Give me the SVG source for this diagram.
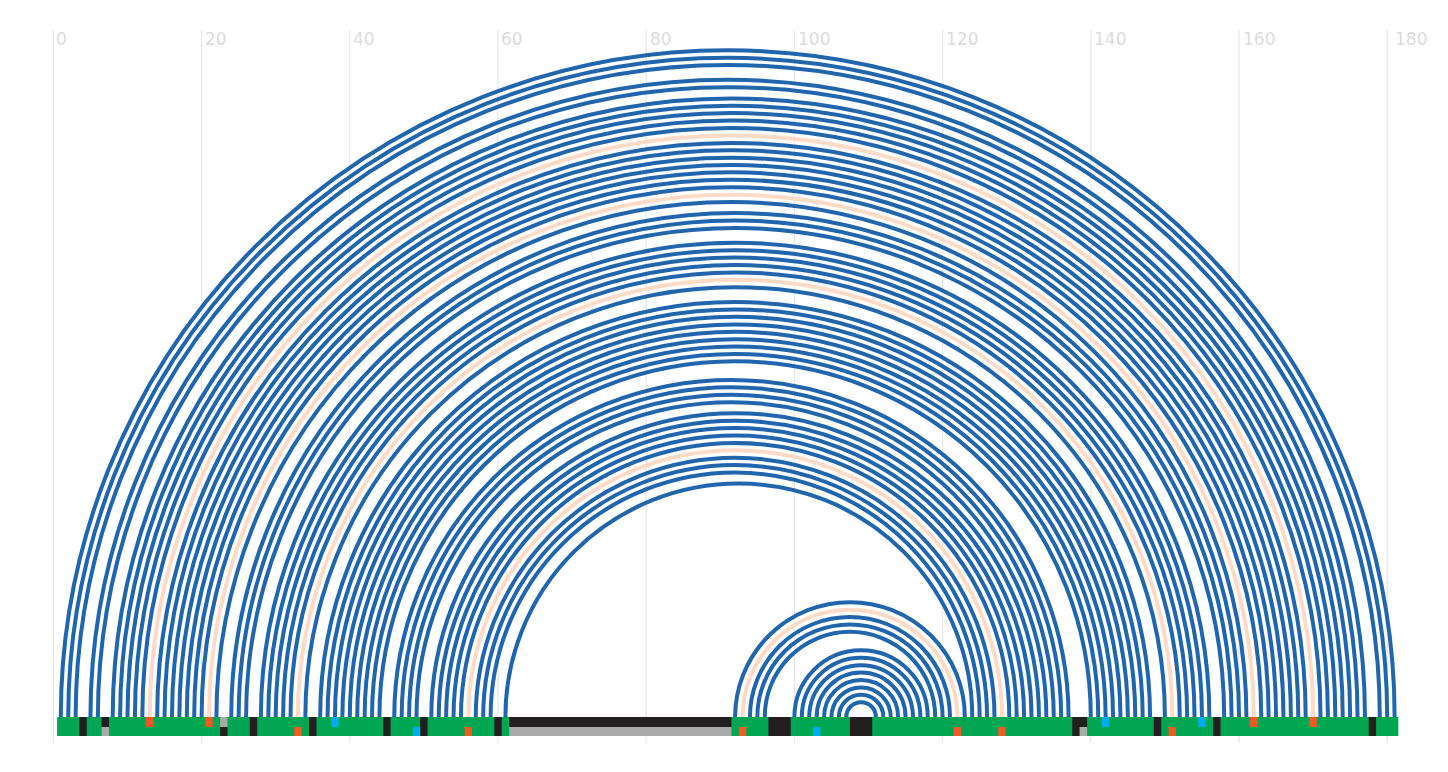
<svg xmlns="http://www.w3.org/2000/svg" width="1448" height="772" viewBox="0 0 1448 772">
<style>
.grid{stroke:#e8e8e8;stroke-width:1.3}
.lbl{font-family:"DejaVu Sans",sans-serif;font-size:17px;fill:#dcdcdc}
.arc{fill:none;stroke:#2166ac;stroke-width:4}
.mm{stroke:#fddbc7}
.g{fill:#00a651}
.k{fill:#231f20}
.s{fill:#aaaaaa}
.o{fill:#f15a22}
.c{fill:#00aeef}
#track-top rect{height:10px}
#track-bottom rect{height:9px}
</style>
<rect width="1448" height="772" fill="#ffffff"/>
<g id="axis">
<line class="grid" x1="53.4" y1="30" x2="53.4" y2="743"/>
<line class="grid" x1="201.6" y1="30" x2="201.6" y2="743"/>
<line class="grid" x1="349.8" y1="30" x2="349.8" y2="743"/>
<line class="grid" x1="498" y1="30" x2="498" y2="743"/>
<line class="grid" x1="646.2" y1="30" x2="646.2" y2="743"/>
<line class="grid" x1="794.4" y1="30" x2="794.4" y2="743"/>
<line class="grid" x1="942.6" y1="30" x2="942.6" y2="743"/>
<line class="grid" x1="1090.8" y1="30" x2="1090.8" y2="743"/>
<line class="grid" x1="1239" y1="30" x2="1239" y2="743"/>
<line class="grid" x1="1387.2" y1="30" x2="1387.2" y2="743"/>
<text class="lbl" x="56" y="45">0</text>
<text class="lbl" x="205" y="45">20</text>
<text class="lbl" x="353" y="45">40</text>
<text class="lbl" x="501" y="45">60</text>
<text class="lbl" x="650" y="45">80</text>
<text class="lbl" x="798" y="45">100</text>
<text class="lbl" x="946" y="45">120</text>
<text class="lbl" x="1094" y="45">140</text>
<text class="lbl" x="1243" y="45">160</text>
<text class="lbl" x="1395" y="45">180</text>
</g>
<g id="connectors">
<path class="arc" d="M60.81 717A666.9 666.9 0 0 1 1394.61 717"/>
<path class="arc" d="M68.22 717A659.49 659.49 0 0 1 1387.2 717"/>
<path class="arc" d="M75.63 717A652.08 652.08 0 0 1 1379.79 717"/>
<path class="arc" d="M90.45 717A637.26 637.26 0 0 1 1364.97 717"/>
<path class="arc" d="M97.86 717A629.85 629.85 0 0 1 1357.56 717"/>
<path class="arc" d="M112.68 717A618.735 618.735 0 0 1 1350.15 717"/>
<path class="arc" d="M120.09 717A611.325 611.325 0 0 1 1342.74 717"/>
<path class="arc" d="M127.5 717A603.915 603.915 0 0 1 1335.33 717"/>
<path class="arc" d="M134.91 717A596.505 596.505 0 0 1 1327.92 717"/>
<path class="arc" d="M142.32 717A589.095 589.095 0 0 1 1320.51 717"/>
<path class="arc mm" d="M149.73 717A581.685 581.685 0 0 1 1313.1 717"/>
<path class="arc" d="M157.14 717A574.275 574.275 0 0 1 1305.69 717"/>
<path class="arc" d="M164.55 717A566.865 566.865 0 0 1 1298.28 717"/>
<path class="arc" d="M171.96 717A559.455 559.455 0 0 1 1290.87 717"/>
<path class="arc" d="M179.37 717A552.045 552.045 0 0 1 1283.46 717"/>
<path class="arc" d="M186.78 717A544.635 544.635 0 0 1 1276.05 717"/>
<path class="arc" d="M194.19 717A537.225 537.225 0 0 1 1268.64 717"/>
<path class="arc" d="M201.6 717A529.815 529.815 0 0 1 1261.23 717"/>
<path class="arc mm" d="M209.01 717A522.405 522.405 0 0 1 1253.82 717"/>
<path class="arc" d="M216.42 717A514.995 514.995 0 0 1 1246.41 717"/>
<path class="arc" d="M231.24 717A503.88 503.88 0 0 1 1239 717"/>
<path class="arc" d="M238.65 717A496.47 496.47 0 0 1 1231.59 717"/>
<path class="arc" d="M246.06 717A489.06 489.06 0 0 1 1224.18 717"/>
<path class="arc" d="M260.88 717A474.24 474.24 0 0 1 1209.36 717"/>
<path class="arc" d="M268.29 717A466.83 466.83 0 0 1 1201.95 717"/>
<path class="arc" d="M275.7 717A459.42 459.42 0 0 1 1194.54 717"/>
<path class="arc" d="M283.11 717A452.01 452.01 0 0 1 1187.13 717"/>
<path class="arc" d="M290.52 717A444.6 444.6 0 0 1 1179.72 717"/>
<path class="arc mm" d="M297.93 717A437.19 437.19 0 0 1 1172.31 717"/>
<path class="arc" d="M305.34 717A429.78 429.78 0 0 1 1164.9 717"/>
<path class="arc" d="M320.16 717A414.96 414.96 0 0 1 1150.08 717"/>
<path class="arc" d="M327.57 717A407.55 407.55 0 0 1 1142.67 717"/>
<path class="arc" d="M334.98 717A400.14 400.14 0 0 1 1135.26 717"/>
<path class="arc" d="M342.39 717A392.73 392.73 0 0 1 1127.85 717"/>
<path class="arc" d="M349.8 717A385.32 385.32 0 0 1 1120.44 717"/>
<path class="arc" d="M357.21 717A377.91 377.91 0 0 1 1113.03 717"/>
<path class="arc" d="M364.62 717A370.5 370.5 0 0 1 1105.62 717"/>
<path class="arc" d="M372.03 717A363.09 363.09 0 0 1 1098.21 717"/>
<path class="arc" d="M379.44 717A355.68 355.68 0 0 1 1090.8 717"/>
<path class="arc" d="M394.26 717A337.155 337.155 0 0 1 1068.57 717"/>
<path class="arc" d="M401.67 717A329.745 329.745 0 0 1 1061.16 717"/>
<path class="arc" d="M409.08 717A322.335 322.335 0 0 1 1053.75 717"/>
<path class="arc" d="M416.49 717A314.925 314.925 0 0 1 1046.34 717"/>
<path class="arc" d="M431.31 717A303.81 303.81 0 0 1 1038.93 717"/>
<path class="arc" d="M438.72 717A296.4 296.4 0 0 1 1031.52 717"/>
<path class="arc" d="M446.13 717A288.99 288.99 0 0 1 1024.11 717"/>
<path class="arc" d="M453.54 717A281.58 281.58 0 0 1 1016.7 717"/>
<path class="arc" d="M460.95 717A274.17 274.17 0 0 1 1009.29 717"/>
<path class="arc mm" d="M468.36 717A266.76 266.76 0 0 1 1001.88 717"/>
<path class="arc" d="M475.77 717A259.35 259.35 0 0 1 994.47 717"/>
<path class="arc" d="M483.18 717A251.94 251.94 0 0 1 987.06 717"/>
<path class="arc" d="M490.59 717A244.53 244.53 0 0 1 979.65 717"/>
<path class="arc" d="M505.41 717A233.415 233.415 0 0 1 972.24 717"/>
<path class="arc" d="M735.12 717A114.855 114.855 0 0 1 964.83 717"/>
<path class="arc mm" d="M742.53 717A107.445 107.445 0 0 1 957.42 717"/>
<path class="arc" d="M749.94 717A100.035 100.035 0 0 1 950.01 717"/>
<path class="arc" d="M757.35 717A92.625 92.625 0 0 1 942.6 717"/>
<path class="arc" d="M764.76 717A85.215 85.215 0 0 1 935.19 717"/>
<path class="arc" d="M794.4 717A66.69 66.69 0 0 1 927.78 717"/>
<path class="arc" d="M801.81 717A59.28 59.28 0 0 1 920.37 717"/>
<path class="arc" d="M809.22 717A51.87 51.87 0 0 1 912.96 717"/>
<path class="arc" d="M816.63 717A44.46 44.46 0 0 1 905.55 717"/>
<path class="arc" d="M824.04 717A37.05 37.05 0 0 1 898.14 717"/>
<path class="arc" d="M831.45 717A29.64 29.64 0 0 1 890.73 717"/>
<path class="arc" d="M838.86 717A22.23 22.23 0 0 1 883.32 717"/>
<path class="arc" d="M846.27 717A14.82 14.82 0 0 1 875.91 717"/>
</g>
<g id="track-base">
<rect class="g" x="57.105" y="717" width="1341.21" height="19"/>
</g>
<g id="track-top">
<rect class="k" x="79.335" y="717" width="7.41" height="10"/>
<rect class="k" x="101.565" y="717" width="7.41" height="10"/>
<rect class="k" x="249.765" y="717" width="7.41" height="10"/>
<rect class="k" x="309.045" y="717" width="7.41" height="10"/>
<rect class="k" x="383.145" y="717" width="7.41" height="10"/>
<rect class="k" x="420.195" y="717" width="7.41" height="10"/>
<rect class="k" x="494.295" y="717" width="7.41" height="10"/>
<rect class="k" x="509.115" y="717" width="222.3" height="10"/>
<rect class="k" x="768.465" y="717" width="22.23" height="10"/>
<rect class="k" x="849.975" y="717" width="22.23" height="10"/>
<rect class="k" x="1072.275" y="717" width="14.82" height="10"/>
<rect class="k" x="1153.785" y="717" width="7.41" height="10"/>
<rect class="k" x="1213.065" y="717" width="7.41" height="10"/>
<rect class="k" x="1368.675" y="717" width="7.41" height="10"/>
<rect class="s" x="220.125" y="717" width="7.41" height="10"/>
<rect class="o" x="146.025" y="717" width="7.41" height="10"/>
<rect class="o" x="205.305" y="717" width="7.41" height="10"/>
<rect class="o" x="1250.115" y="717" width="7.41" height="10"/>
<rect class="o" x="1309.395" y="717" width="7.41" height="10"/>
<rect class="c" x="331.275" y="717" width="7.41" height="10"/>
<rect class="c" x="1101.915" y="717" width="7.41" height="10"/>
<rect class="c" x="1198.245" y="717" width="7.41" height="10"/>
</g>
<g id="track-bottom">
<rect class="k" x="79.335" y="727" width="7.41" height="9"/>
<rect class="k" x="220.125" y="727" width="7.41" height="9"/>
<rect class="k" x="249.765" y="727" width="7.41" height="9"/>
<rect class="k" x="309.045" y="727" width="7.41" height="9"/>
<rect class="k" x="383.145" y="727" width="7.41" height="9"/>
<rect class="k" x="420.195" y="727" width="7.41" height="9"/>
<rect class="k" x="494.295" y="727" width="7.41" height="9"/>
<rect class="k" x="768.465" y="727" width="22.23" height="9"/>
<rect class="k" x="849.975" y="727" width="22.23" height="9"/>
<rect class="k" x="1072.275" y="727" width="7.41" height="9"/>
<rect class="k" x="1153.785" y="727" width="7.41" height="9"/>
<rect class="k" x="1213.065" y="727" width="7.41" height="9"/>
<rect class="k" x="1368.675" y="727" width="7.41" height="9"/>
<rect class="s" x="101.565" y="727" width="7.41" height="9"/>
<rect class="s" x="509.115" y="727" width="222.3" height="9"/>
<rect class="s" x="1079.685" y="727" width="7.41" height="9"/>
<rect class="o" x="294.225" y="727" width="7.41" height="9"/>
<rect class="o" x="464.655" y="727" width="7.41" height="9"/>
<rect class="o" x="738.825" y="727" width="7.41" height="9"/>
<rect class="o" x="953.715" y="727" width="7.41" height="9"/>
<rect class="o" x="998.175" y="727" width="7.41" height="9"/>
<rect class="o" x="1168.605" y="727" width="7.41" height="9"/>
<rect class="c" x="412.785" y="727" width="7.41" height="9"/>
<rect class="c" x="812.925" y="727" width="7.41" height="9"/>
</g>
</svg>
